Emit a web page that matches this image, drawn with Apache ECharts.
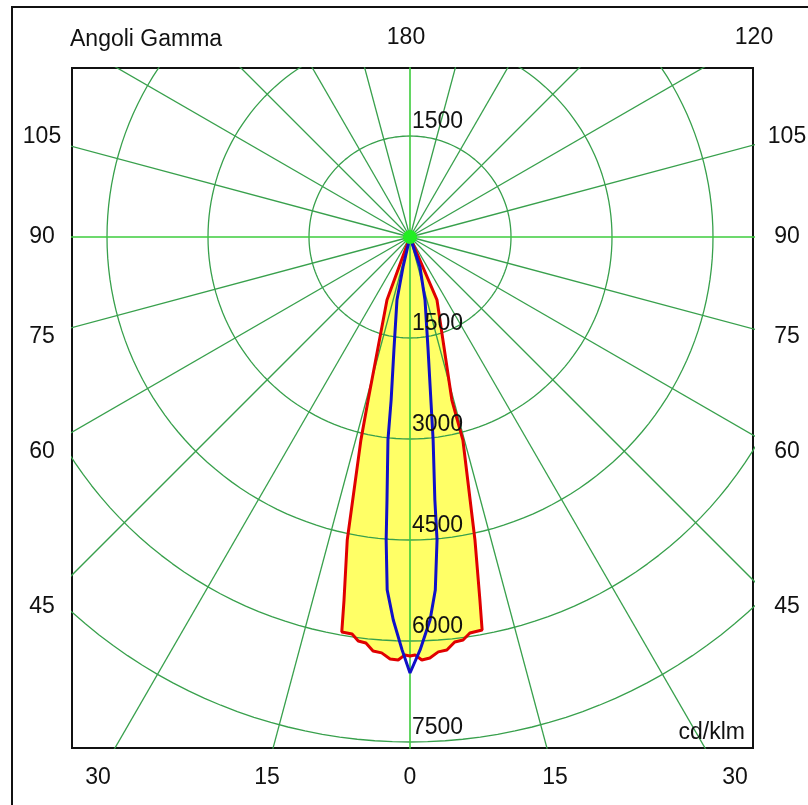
<!DOCTYPE html>
<html>
<head>
<meta charset="utf-8">
<script src="https://cdn.jsdelivr.net/npm/echarts@6/dist/echarts.min.js"></script>
<style>
  html, body { margin: 0; padding: 0; background: #fff; }
  #main { width: 808px; height: 805px; }
</style>
</head>
<body>
<div id="main"></div>
<script>
// polar photometric curve, cd/klm, gamma measured from nadir
const ringValues = [1500, 3000, 4500, 6000, 7500];
const radialAngles = [0, 15, 30, 45, 60, 75, 90, 105, 120, 135, 150, 165, 180,
  195, 210, 225, 240, 255, 270, 285, 300, 315, 330, 345];

// red plane (C0-C180), left half and right half, from nadir upwards
const redGammaL = [0, 0.7, 1.6, 2.7, 3.9, 5.1, 6.2, 7.3, 8.3, 9.8, 10.3, 11.7, 13.6, 14.4, 20.1, 20.6, 25];
const redCdL = [6222, 6207, 6284, 6274, 6191, 6173, 6064, 6049, 5958, 5952, 5480, 4596, 3100, 2500, 995, 126, 0];
const redGammaR = [0.7, 1.6, 2.7, 3.9, 5.1, 6.3, 7.5, 8.6, 10.4, 10.9, 12.1, 14.6, 14.4, 23.2, 28];
const redCdR = [6207, 6284, 6259, 6176, 6158, 6051, 6036, 5948, 5933, 5490, 4602, 3116, 2500, 1017, 0];

// blue plane (C90-C270)
const blueGammaL = [0, 1.1, 2.5, 3.7, 4.5, 5.0, 6.2, 6.6, 8.1, 11.7, 13.1, 15];
const blueCdL = [6475, 6133, 5693, 5252, 4514, 3920, 3032, 2437, 1694, 955, 457, 0];
const blueGammaR = [1.4, 3.0, 4.1, 5.1, 5.4, 6.5, 7.3, 9.1, 13.4, 18.4, 20];
const blueCdR = [6135, 5695, 5255, 4517, 3923, 3034, 2440, 1699, 962, 469, 0];

const leftLabels = ["105", "90", "75", "60", "45"];
const bottomLabels = ["30", "15", "0", "15", "30"];
const topLabels = ["180", "120"];

const rad = Math.PI / 180;
function toXY(gamma, cd, side) {
  return [side * cd * Math.sin(gamma * rad), -cd * Math.cos(gamma * rad)];
}
function curve(gL, cL, gR, cR) {
  const left = gL.map((g, i) => toXY(g, cL[i], -1)).reverse();
  const right = gR.map((g, i) => toXY(g, cR[i], 1));
  return left.concat(right);
}
const redPath = curve(redGammaL, redCdL, redGammaR, redCdR);
const bluePath = curve(blueGammaL, blueCdL, blueGammaR, blueCdR);

const gridGreen = "#38a04c";
const axisGreen = "#3ccc3c";

const ringSeries = ringValues.map((v) => {
  const pts = [];
  for (let a = 0; a <= 360; a += 2) pts.push([v * Math.sin(a * rad), v * Math.cos(a * rad)]);
  return {
    type: "line", data: pts, symbol: "none", clip: true, z: 2, silent: true,
    lineStyle: { color: gridGreen, width: 1.3 },
  };
});
const radialSeries = radialAngles.map((a) => ({
  type: "line",
  data: [[0, 0], [12000 * Math.sin(a * rad), -12000 * Math.cos(a * rad)]],
  symbol: "none", clip: true, z: 2, silent: true,
  lineStyle: { color: a % 90 === 0 ? axisGreen : gridGreen, width: a % 90 === 0 ? 1.6 : 1.3 },
}));

const font = '23px "Liberation Sans", Arial, sans-serif';
function txt(text, x, y, align) {
  return {
    type: "text", x, y, z: 10,
    style: { text, fill: "#111", font, align: align || "center", verticalAlign: "middle",
      textAlign: align || "center", textVerticalAlign: "middle" },
  };
}
const leftY = [137, 237, 337, 452, 607];
const bottomX = [98, 267, 410, 555, 735];

const graphic = [
  { type: "rect", shape: { x: 12, y: 7, width: 900, height: 900 }, style: { fill: "none", stroke: "#111", lineWidth: 2 }, z: 10 },
  txt("Angoli Gamma", 70, 40, "left"),
  txt(topLabels[0], 406, 38),
  txt(topLabels[1], 754, 38),
  txt("cd/klm", 745, 733, "right"),
]
  .concat(leftLabels.map((t, i) => txt(t, 42, leftY[i])))
  .concat(leftLabels.map((t, i) => txt(t, 787, leftY[i])))
  .concat(bottomLabels.map((t, i) => txt(t, bottomX[i], 778)));

const scale = 1500 / 101;
const chart = echarts.init(document.getElementById("main"));
const options = {
  animation: false,
  backgroundColor: "#fff",
  grid: {
    left: 72, top: 68, width: 681, height: 680,
    show: true, borderColor: "#111", borderWidth: 2, backgroundColor: "#fff", z: 0,
  },
  xAxis: { type: "value", min: -(410 - 72) * scale, max: (753 - 410) * scale, show: false },
  yAxis: { type: "value", min: -(748 - 237) * scale, max: (237 - 68) * scale, show: false },
  graphic,
  series: [
    {
      type: "custom", z: 1, silent: true, data: [[0, 0]],
      renderItem: function (params, api) {
        return {
          type: "polygon",
          shape: { points: redPath.map((p) => api.coord(p)) },
          style: { fill: "#ffff66" },
        };
      },
    },
    ...ringSeries,
    ...radialSeries,
    {
      type: "line", data: redPath, symbol: "none", z: 3, silent: true,
      lineStyle: { color: "#e00000", width: 3 },
    },
    {
      type: "line", data: bluePath, symbol: "none", z: 3, silent: true,
      lineStyle: { color: "#1010c8", width: 3 },
    },
    {
      type: "scatter", data: [[0, 0]], symbolSize: 14, z: 4, silent: true,
      itemStyle: { color: "#22ee22", opacity: 1 },
    },
    {
      type: "scatter", z: 5, silent: true, symbolSize: 0,
      itemStyle: { opacity: 1 },
      data: [[0, ringValues[0]]].concat(ringValues.map((v) => [0, -v])),
      label: {
        show: true, position: [2, -26], color: "#111",
        fontFamily: '"Liberation Sans", Arial, sans-serif', fontSize: 23,
        formatter: (p) => String(Math.abs(p.value[1])),
      },
    },
  ],
};
chart.setOption(options);
</script>
</body>
</html>
